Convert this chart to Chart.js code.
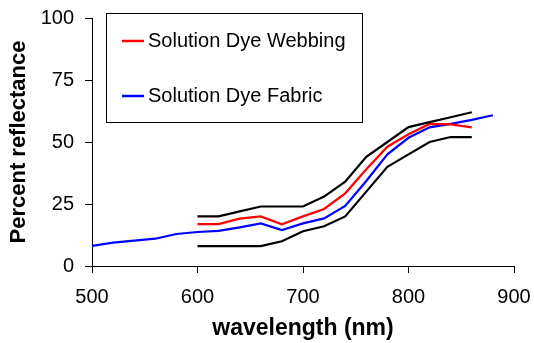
<!DOCTYPE html>
<html>
<head>
<meta charset="utf-8">
<script src="https://cdn.jsdelivr.net/npm/chart.js@4"></script>
<style>
  html, body { margin: 0; padding: 0; background: #fff; }
  #wrap { width: 534px; height: 343px; }
</style>
</head>
<body>
<div id="wrap"><canvas id="reflChart" width="534" height="343"></canvas></div>
<script>
// wavelengths (nm)
var fabricNm = [500, 520, 540, 560, 580, 600, 620, 640, 660, 680, 700, 720, 740, 760, 780, 800, 820, 840, 860, 880];
var webbingNm = [600, 620, 640, 660, 680, 700, 720, 740, 760, 780, 800, 820, 840, 860];

// percent reflectance
var fabric = [8.1, 9.4, 10.2, 11, 12.9, 13.7, 14.2, 15.6, 17.2, 14.5, 17.2, 19.2, 24.2, 34.3, 45, 51.7, 55.9, 57.3, 58.9, 60.8];
var webbing = [16.9, 16.9, 19.1, 20, 16.8, 20, 23, 29.3, 39, 48.1, 53.1, 57.3, 57.1, 55.9];
var upperLimit = [20, 20, 22, 24, 24, 24, 28, 34, 44, 50, 56, 58, 60, 62];
var lowerLimit = [8, 8, 8, 8, 10, 14, 16, 20, 30, 40, 45, 50, 52, 52];

var xTicks = [500, 600, 700, 800, 900];
var yTicks = [0, 25, 50, 75, 100];

function pts(xs, ys) {
    return xs.map(function (x, i) { return { x: x, y: ys[i] }; });
}

// legend box drawn inside the plot, like the original
var boxLegend = {
    id: 'boxLegend',
    afterDraw: function (chart) {
        var ctx = chart.ctx;
        ctx.save();
        ctx.fillStyle = '#fff';
        ctx.fillRect(106, 13, 257, 109);
        ctx.strokeStyle = '#000';
        ctx.lineWidth = 1;
        ctx.strokeRect(106.5, 13.5, 256, 109);
        var items = [
            { text: 'Solution Dye Webbing', color: '#ff0000', y: 41 },
            { text: 'Solution Dye Fabric', color: '#0000ff', y: 96 }
        ];
        ctx.font = '20px "Liberation Sans", Arial, sans-serif';
        ctx.textBaseline = 'middle';
        items.forEach(function (it) {
            ctx.strokeStyle = it.color;
            ctx.lineWidth = 2.5;
            ctx.beginPath();
            ctx.moveTo(122, it.y);
            ctx.lineTo(144, it.y);
            ctx.stroke();
            ctx.fillStyle = '#000';
            ctx.fillText(it.text, 148, it.y);
        });
        ctx.restore();
    }
};

var lineStyle = { borderWidth: 2.2, pointRadius: 0, fill: false, tension: 0 };

new Chart(document.getElementById('reflChart'), {
    type: 'line',
    data: {
        datasets: [
            Object.assign({ label: 'upper', data: pts(webbingNm, upperLimit), borderColor: '#000' }, lineStyle),
            Object.assign({ label: 'lower', data: pts(webbingNm, lowerLimit), borderColor: '#000' }, lineStyle),
            Object.assign({ label: 'Solution Dye Webbing', data: pts(webbingNm, webbing), borderColor: '#ff0000' }, lineStyle),
            Object.assign({ label: 'Solution Dye Fabric', data: pts(fabricNm, fabric), borderColor: '#0000ff' }, lineStyle)
        ]
    },
    options: {
        responsive: false,
        animation: false,
        layout: { padding: { top: 18, right: 20, left: 0, bottom: 0 } },
        plugins: {
            legend: { display: false },
            tooltip: { enabled: false }
        },
        scales: {
            x: {
                type: 'linear',
                min: 500,
                max: 900,
                afterBuildTicks: function (axis) {
                    axis.ticks = xTicks.map(function (v) { return { value: v }; });
                },
                afterFit: function (axis) {
                    axis.height = 77;
                    axis.paddingLeft = 0;
                    axis.paddingRight = 0;
                },
                grid: { drawOnChartArea: false, drawTicks: true, tickLength: 7, color: '#000', lineWidth: 1 },
                border: { display: true, color: '#000', width: 1 },
                ticks: {
                    color: '#000',
                    padding: 12,
                    maxRotation: 0,
                    font: { family: '"Liberation Sans", Arial, sans-serif', size: 20 }
                },
                title: {
                    display: true,
                    text: 'wavelength (nm)',
                    color: '#000',
                    padding: { top: 0, bottom: 1 },
                    font: { family: '"Liberation Sans", Arial, sans-serif', size: 23, weight: 'bold' }
                }
            },
            y: {
                min: 0,
                max: 100,
                afterBuildTicks: function (axis) {
                    axis.ticks = yTicks.map(function (v) { return { value: v }; });
                },
                afterFit: function (axis) {
                    axis.width = 92;
                    axis.paddingTop = 0;
                    axis.paddingBottom = 0;
                },
                grid: { drawOnChartArea: false, drawTicks: true, tickLength: 7, color: '#000', lineWidth: 1 },
                border: { display: true, color: '#000', width: 1 },
                ticks: {
                    color: '#000',
                    padding: 11,
                    font: { family: '"Liberation Sans", Arial, sans-serif', size: 20 }
                },
                title: {
                    display: true,
                    text: 'Percent reflectance',
                    color: '#000',
                    padding: { top: 6, bottom: 0 },
                    font: { family: '"Liberation Sans", Arial, sans-serif', size: 22, weight: 'bold' }
                }
            }
        }
    },
    plugins: [boxLegend]
});
</script>
</body>
</html>
